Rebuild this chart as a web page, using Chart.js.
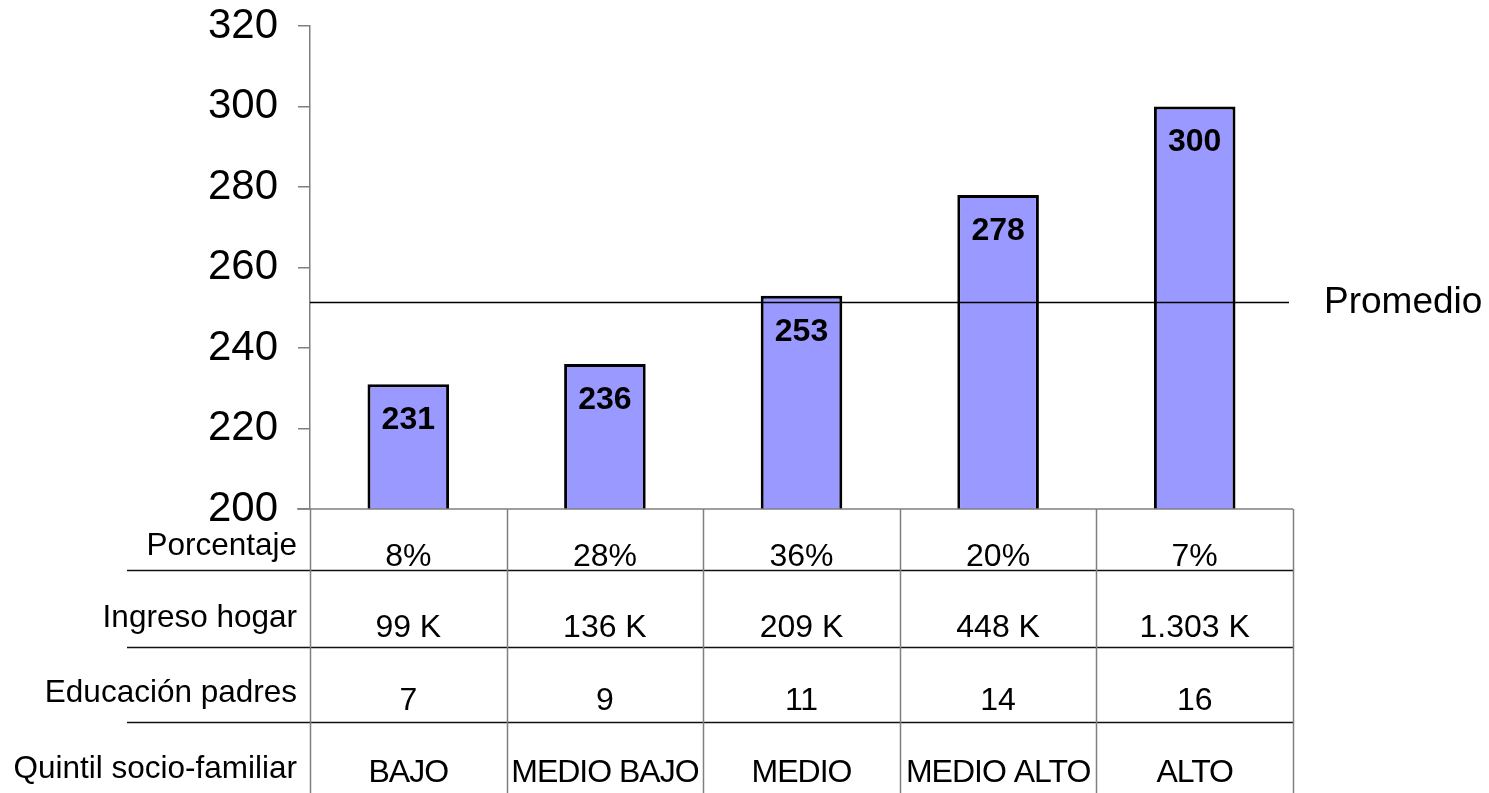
<!DOCTYPE html>
<html>
<head>
<meta charset="utf-8">
<script src="https://cdn.jsdelivr.net/npm/chart.js@4.4.1/dist/chart.umd.min.js"></script>
<style>
  html, body { margin: 0; padding: 0; background: #fff; }
  #wrap { width: 1489px; height: 793px; }
</style>
</head>
<body>
<div id="wrap"><canvas id="chart"></canvas></div>
<script>
const quintiles = ["BAJO", "MEDIO BAJO", "MEDIO", "MEDIO ALTO", "ALTO"];
const puntajes = [231, 236, 253, 278, 300];
const promedio = 251.4;
const porcentaje = ["8%", "28%", "36%", "20%", "7%"];
const ingreso = ["99 K", "136 K", "209 K", "448 K", "1.303 K"];
const educacion = ["7", "9", "11", "14", "16"];
const rowLabels = ["Porcentaje", "Ingreso hogar", "Educación padres", "Quintil socio-familiar"];
const yTicks = [200, 220, 240, 260, 280, 300, 320];

const FONT = "'Liberation Sans', Arial, sans-serif";

// bar value labels inside the top of each bar
const valueLabels = {
    id: "valueLabels",
    afterDatasetsDraw(chart) {
        const ctx = chart.ctx;
        const meta = chart.getDatasetMeta(0);
        ctx.save();
        ctx.font = "bold 32px " + FONT;
        ctx.fillStyle = "#000";
        ctx.textAlign = "center";
        ctx.textBaseline = "middle";
        meta.data.forEach((bar, i) => {
            ctx.fillText(String(puntajes[i]), bar.x, bar.y + 36);
        });
        ctx.restore();
    },
};

// promedio line + table under the chart
const tablePlugin = {
    id: "tablePlugin",
    afterDraw(chart) {
        const ctx = chart.ctx;
        const area = chart.chartArea;
        const x = chart.scales.x;
        const y = chart.scales.y;
        const H = chart.height;
        ctx.save();

        // promedio
        const py = Math.round(y.getPixelForValue(promedio)) + 0.5;
        ctx.strokeStyle = "#000";
        ctx.lineWidth = 1.5;
        ctx.beginPath();
        ctx.moveTo(area.left, py);
        ctx.lineTo(area.right - 4, py);
        ctx.stroke();
        ctx.font = "37px " + FONT;
        ctx.fillStyle = "#000";
        ctx.textBaseline = "middle";
        ctx.textAlign = "left";
        ctx.fillText("Promedio", area.right + 31, py);

        // horizontal lines
        const rowLines = [570, 647, 722];
        ctx.strokeStyle = "#7f7f7f";
        ctx.lineWidth = 1.5;
        ctx.beginPath();
        ctx.moveTo(area.left - 13, area.bottom);
        ctx.lineTo(area.right, area.bottom);
        ctx.stroke();
        ctx.strokeStyle = "#111";
        rowLines.forEach((ly) => {
            ctx.beginPath();
            ctx.moveTo(127, ly + 0.5);
            ctx.lineTo(area.right, ly + 0.5);
            ctx.stroke();
        });

        // vertical lines at category boundaries
        ctx.strokeStyle = "#7f7f7f";
        const half = (x.getPixelForValue(1) - x.getPixelForValue(0)) / 2;
        for (let i = 0; i <= quintiles.length; i++) {
            const vx = Math.round(x.getPixelForValue(i) - half) + 0.5;
            ctx.beginPath();
            ctx.moveTo(vx, area.bottom);
            ctx.lineTo(vx, H);
            ctx.stroke();
        }

        // row labels
        ctx.font = "31.5px " + FONT;
        ctx.textBaseline = "alphabetic";
        ctx.textAlign = "right";
        const labelBase = [555, 627, 702, 778];
        rowLabels.forEach((t, i) => ctx.fillText(t, 297, labelBase[i]));

        // cell values
        ctx.textAlign = "center";
        ctx.font = "32px " + FONT;
        const rows = [porcentaje, ingreso, educacion, quintiles];
        const valueBase = [566, 637, 710, 782];
        rows.forEach((row, r) => {
            ctx.save();
            if (r === 3) ctx.letterSpacing = "-1px";
            row.forEach((v, i) => {
                ctx.fillText(v, x.getPixelForValue(i), valueBase[r]);
            });
            ctx.restore();
        });
        ctx.restore();
    },
};

new Chart(document.getElementById("chart"), {
    type: "bar",
    data: {
        labels: quintiles,
        datasets: [
            {
                data: puntajes,
                backgroundColor: "#9999ff",
                borderColor: "#000",
                borderWidth: 3,
                borderSkipped: false,
                categoryPercentage: 1,
                barPercentage: 0.415,
            },
        ],
    },
    options: {
        responsive: true,
        maintainAspectRatio: false,
        animation: false,
        layout: {
            padding: { top: 26, bottom: 284, right: 196, left: 0 },
        },
        plugins: {
            legend: { display: false },
            tooltip: { enabled: false },
        },
        scales: {
            x: {
                display: false,
            },
            y: {
                min: 200,
                max: 320,
                afterFit: (scale) => {
                    scale.width = 310;
                    scale.paddingTop = 0;
                    scale.paddingBottom = 0;
                },
                afterBuildTicks: (scale) => {
                    scale.ticks = yTicks.map((v) => ({ value: v }));
                },
                border: { color: "#7f7f7f", width: 1.5 },
                grid: {
                    drawOnChartArea: false,
                    drawTicks: true,
                    tickLength: 12,
                    color: "#7f7f7f",
                    lineWidth: 1.5,
                },
                ticks: {
                    color: "#000",
                    padding: 20,
                    font: { family: FONT, size: 42 },
                },
            },
        },
    },
    plugins: [valueLabels, tablePlugin],
});
</script>
</body>
</html>
